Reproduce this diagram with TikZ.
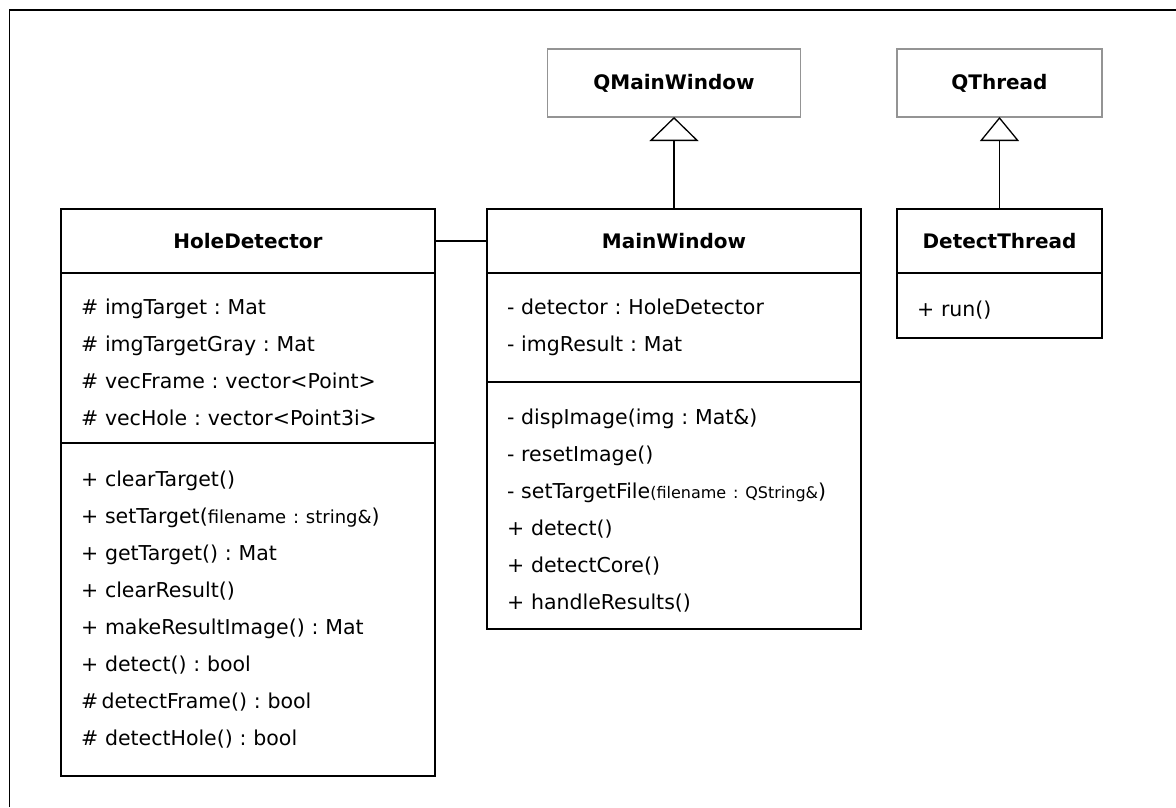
\documentclass[tikz,border=0pt]{standalone}
\usepackage{fontspec}
\setmainfont{DejaVu Sans}
\usetikzlibrary{arrows.meta,positioning}

% parameter lists are set a little smaller
\newcommand{\smallarg}[2][18]{{\fontsize{#1}{37}\selectfont #2}}

\tikzset{
  every node/.style={font=\fontsize{20.5}{37}\selectfont\frenchspacing},
  box/.style={draw, line width=1.2pt, outer sep=0pt, inner ysep=0pt},
  classname/.style={box, font=\fontsize{20}{24}\selectfont\bfseries, minimum height=64pt, inner xsep=0pt},
  members/.style={box, align=left, inner xsep=20pt, anchor=north},
  qtbase/.style={classname, draw=black!42, minimum height=68pt, anchor=north},
  generalize/.style={-{Triangle[open,length=24pt,width=#1]}, line width=1.3pt},
  generalize/.default=49pt,
  assoc/.style={line width=1.2pt}
}

\begin{document}
\begin{tikzpicture}[x=1pt,y=-1pt]
  \useasboundingbox (0,0) rectangle (1176,807);
  \draw[line width=1.3pt] (9.5,807) |- (1176,10);

  % Qt base classes
  \node[qtbase, minimum width=253pt] (qmw) at (674,49) {QMainWindow};
  \node[qtbase, minimum width=205pt] (qth) at (999.5,49) {QThread};

  % HoleDetector
  \node[classname, minimum width=374pt, anchor=north west] (hd) at (61,209) {HoleDetector};
  \node[members, text width=334pt, minimum height=170pt, text height=25pt, below=0pt of hd] (hdattr) {%
    \# imgTarget : Mat\\
    \# imgTargetGray : Mat\\
    \# vecFrame : vector<Point>\\
    \# vecHole : vector<Point3i>};
  \node[members, text width=334pt, minimum height=333pt, below=0pt of hdattr] (hdops) {%
    + clearTarget()\\
    + setTarget(\smallarg{filename : string\&})\\
    + getTarget() : Mat\\
    + clearResult()\\
    + makeResultImage() : Mat\\
    + detect() : bool\\
    \#\,detectFrame() : bool\\
    \# detectHole() : bool};

  % MainWindow
  \node[classname, minimum width=374pt, anchor=north west] (mw) at (487,209) {MainWindow};
  \node[members, text width=334pt, minimum height=109pt, below=0pt of mw] (mwattr) {%
    - detector : HoleDetector\\
    - imgResult : Mat};
  \node[members, text width=334pt, minimum height=247pt, text height=25pt, below=0pt of mwattr] (mwops) {%
    - dispImage(img : Mat\&)\\
    - resetImage()\\
    - setTargetFile\smallarg[16]{(filename : QString\&})\\
    + detect()\\
    + detectCore()\\
    + handleResults()};

  % DetectThread
  \node[classname, minimum width=205pt, anchor=north west] (dt) at (897,209) {DetectThread};
  \node[members, text width=165pt, minimum height=65pt, text height=24pt, below=0pt of dt] (dtops) {+ run()};

  \draw[assoc] (hd) -- (mw);
  \draw[generalize] (mw) -- (qmw);
  \draw[generalize=39pt] (dt) -- (qth);
\end{tikzpicture}
\end{document}
